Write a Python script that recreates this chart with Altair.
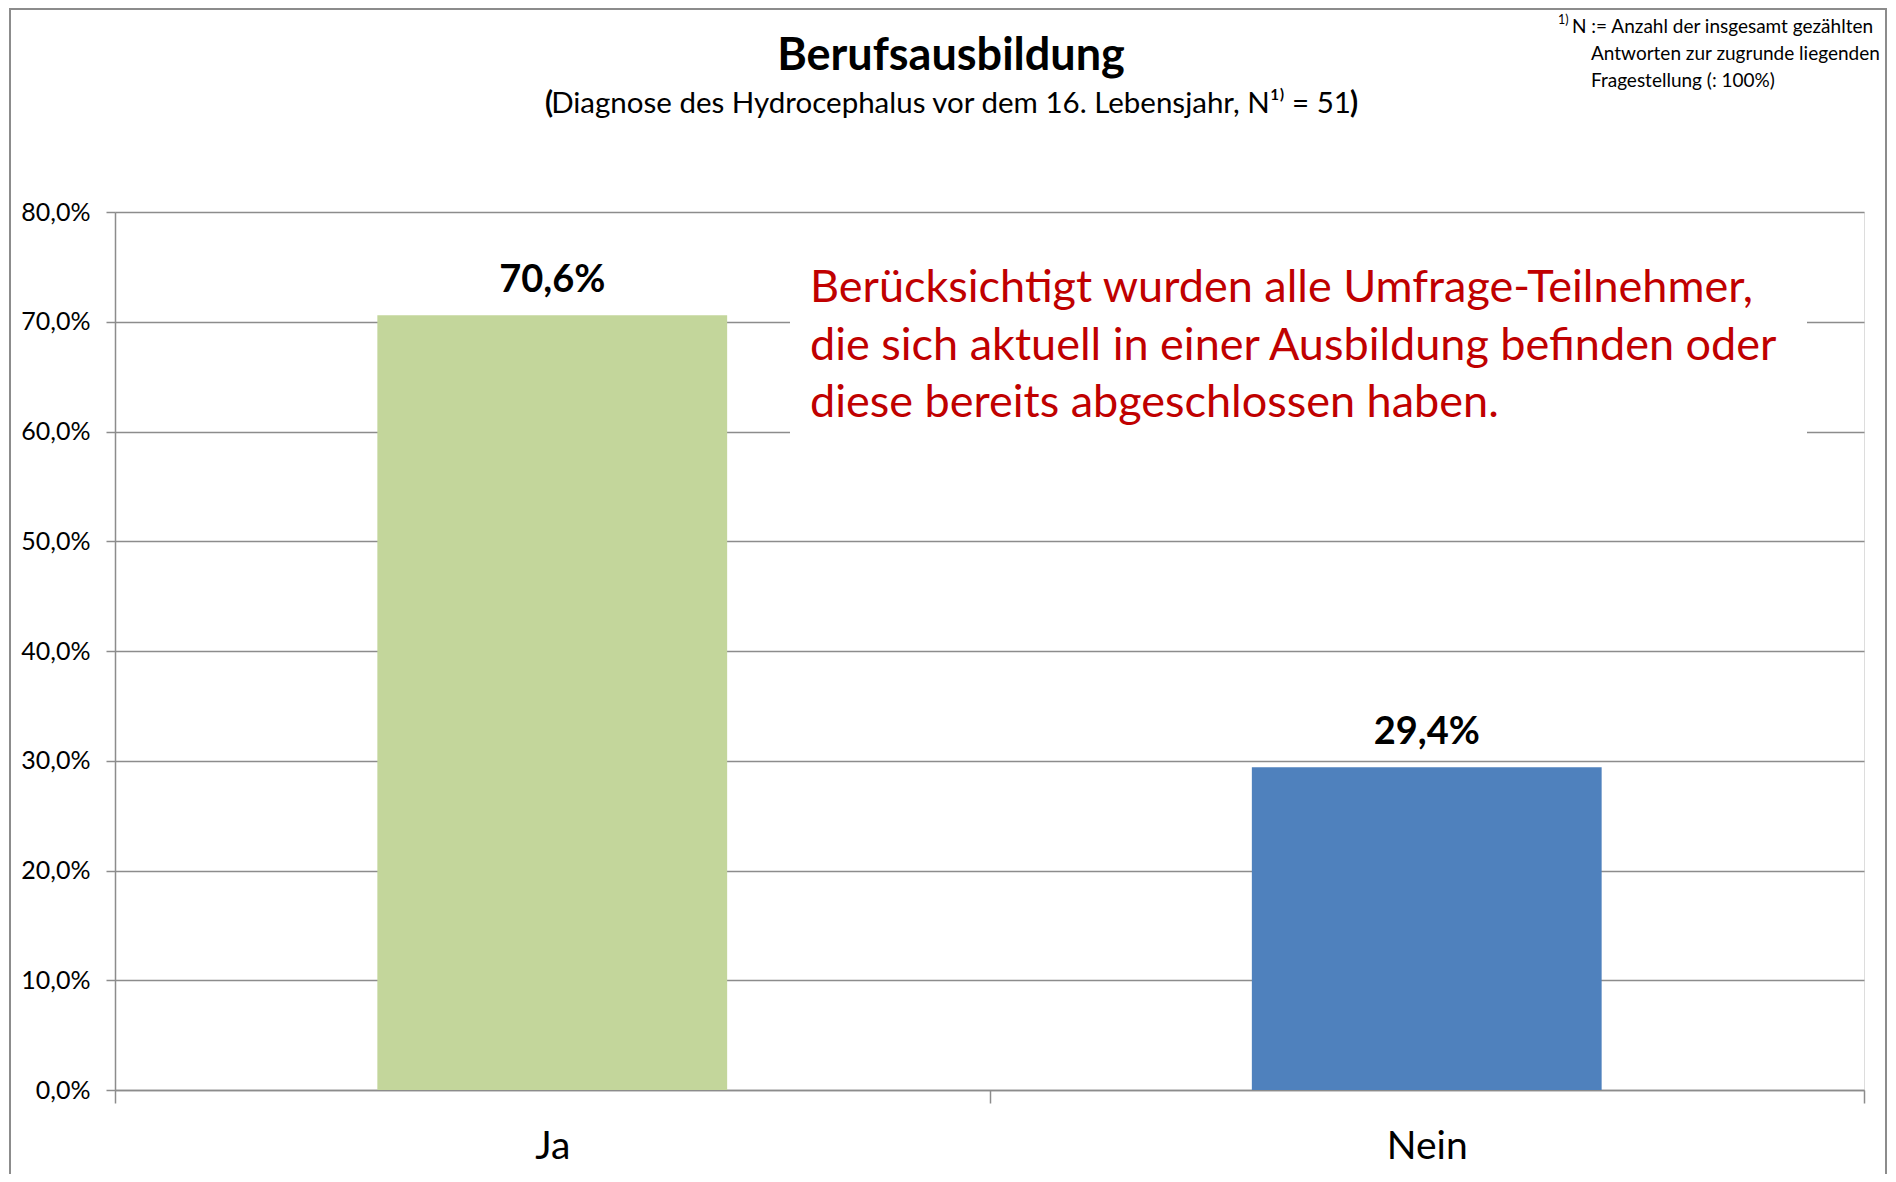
import altair as alt
import pandas as pd

# ---- data ----
categories = ["Ja", "Nein"]
values = [0.706, 0.294]
value_labels = ["70,6%", "29,4%"]
bar_colors = ["#C3D69B", "#4F81BD"]
y_tick_values = [0.0, 0.1, 0.2, 0.3, 0.4, 0.5, 0.6, 0.7, 0.8]

title_text = "Berufsausbildung"
subtitle_text = "Diagnose des Hydrocephalus vor dem 16. Lebensjahr, N¹⁾ = 51"
note_lines = [
    "Berücksichtigt wurden alle Umfrage-Teilnehmer,",
    "die sich aktuell in einer Ausbildung befinden oder",
    "diese bereits abgeschlossen haben.",
]
footnote_mark = "1)"
footnote_first = "N := Anzahl der insgesamt gezählten"
footnote_rest = ["Antworten zur zugrunde liegenden", "Fragestellung (: 100%)"]

FONT = "Lato"
GRAY = "#8C8C8C"
W, H = 1749, 878

df = pd.DataFrame({"cat": categories, "val": values, "lab": value_labels})
one = pd.DataFrame({"a": [0]})

x_enc = alt.X(
    "cat:N",
    sort=categories,
    title=None,
    scale=alt.Scale(paddingInner=0, paddingOuter=0),
    axis=alt.Axis(
        tickBand="extent",
        labelAngle=0,
        labelFont=FONT,
        labelFontSize=39,
        labelColor="black",
        labelPadding=24,
        tickSize=13,
        tickColor=GRAY,
        tickWidth=1.5,
        domainColor=GRAY,
        domainWidth=1.5,
        grid=False,
    ),
)
y_enc = alt.Y(
    "val:Q",
    title=None,
    scale=alt.Scale(domain=[0, 0.8], nice=False),
    axis=alt.Axis(
        values=y_tick_values,
        labelExpr="replace(format(datum.value, '.1%'), '.', ',')",
        labelFont=FONT,
        labelFontSize=25,
        labelColor="black",
        labelPadding=16,
        tickSize=9,
        tickColor=GRAY,
        tickWidth=1.5,
        domainColor=GRAY,
        domainWidth=1.5,
        grid=True,
        gridColor=GRAY,
        gridWidth=1.4,
    ),
)

border = alt.Chart(one).mark_rect(fillOpacity=0, stroke=GRAY, strokeWidth=2).encode(
    x=alt.value(-105), x2=alt.value(1771), y=alt.value(-203), y2=alt.value(990)
)

title_mark = alt.Chart(one).mark_text(
    font=FONT, fontSize=45, fontWeight="bold", color="black", align="center", baseline="middle"
).encode(x=alt.value(836), y=alt.value(-156), text=alt.value(title_text))

subtitle_mark = alt.Chart(one).mark_text(
    font=FONT, fontSize=29.5, color="black", align="center", baseline="middle"
).encode(x=alt.value(836), y=alt.value(-108), text=alt.value(subtitle_text))

paren_open = alt.Chart(one).mark_text(
    font=FONT, fontSize=29.5, fontWeight="bold", color="black", align="right", baseline="middle"
).encode(x=alt.value(438), y=alt.value(-108), text=alt.value("("))

paren_close = alt.Chart(one).mark_text(
    font=FONT, fontSize=29.5, fontWeight="bold", color="black", align="left", baseline="middle"
).encode(x=alt.value(1235), y=alt.value(-108), text=alt.value(")"))

bars = alt.Chart(df).mark_bar(width=alt.RelativeBandSize(0.4)).encode(
    x=x_enc,
    y=y_enc,
    color=alt.Color("cat:N", scale=alt.Scale(domain=categories, range=bar_colors), legend=None),
)

bar_text = alt.Chart(df).mark_text(
    font=FONT, fontSize=38, fontWeight="bold", color="black", baseline="middle", dy=-34
).encode(x=alt.X("cat:N", sort=categories), y="val:Q", text="lab:N")

note_box = alt.Chart(one).mark_rect(fill="white").encode(
    x=alt.value(675), x2=alt.value(1692), y=alt.value(23), y2=alt.value(233)
)

note_text = alt.Chart(one).mark_text(
    font=FONT, fontSize=45, color="#C00000", align="left", baseline="middle", lineHeight=57.5
).encode(x=alt.value(695), y=alt.value(76), text=alt.value(note_lines))

fn_mark = alt.Chart(one).mark_text(
    font=FONT, fontSize=12.5, color="black", align="left", baseline="middle"
).encode(x=alt.value(1443), y=alt.value(-192), text=alt.value(footnote_mark))

fn_first = alt.Chart(one).mark_text(
    font=FONT, fontSize=19, color="black", align="left", baseline="middle"
).encode(x=alt.value(1457), y=alt.value(-185), text=alt.value(footnote_first))

fn_rest = alt.Chart(one).mark_text(
    font=FONT, fontSize=19, color="black", align="left", baseline="middle", lineHeight=27
).encode(x=alt.value(1476), y=alt.value(-158), text=alt.value(footnote_rest))

chart = (
    alt.layer(border, title_mark, subtitle_mark, paren_open, paren_close, bars, bar_text,
              note_box, note_text, fn_mark, fn_first, fn_rest)
    .properties(
        width=W,
        height=H,
        autosize=alt.AutoSizeParams(type="none"),
        padding={"left": 107, "top": 204, "right": 24, "bottom": 84},
    )
    .configure_view(stroke=None)
    .configure(background="white")
)

chart.save("out.html", embed_options={"renderer": "svg", "actions": False})
